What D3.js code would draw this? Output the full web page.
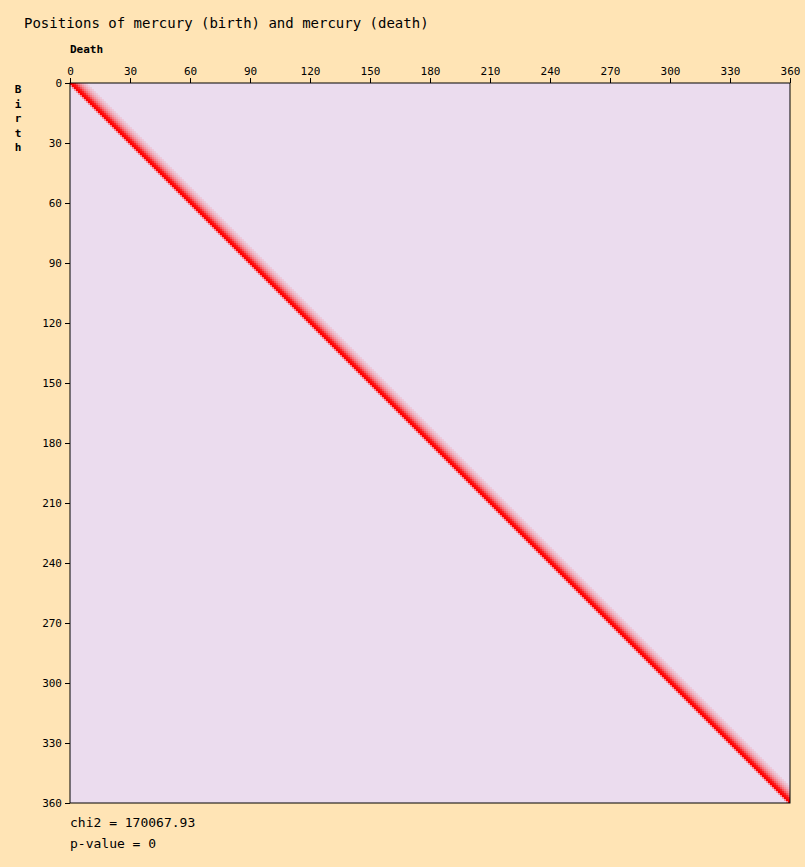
<!DOCTYPE html>
<html><head><meta charset="utf-8">
<script src="https://cdn.jsdelivr.net/npm/d3@7"></script>
<style>body{margin:0;background:#ffe4b5;}text{font-family:"DejaVu Sans Mono",monospace;}</style>
</head><body><svg id="c" width="805" height="867"></svg>
<script>
// axis ticks (degrees)
const ticks = [0, 30, 60, 90, 120, 150, 180, 210, 240, 270, 300, 330, 360];
// diagonal band: offset of death from birth (deg) and red intensity
const bandOffsets = [-1, 0, 1, 2, 3, 4, 5, 6, 7, 8];
const bandStrength = [0.35, 1.0, 0.95, 0.85, 0.62, 0.45, 0.32, 0.22, 0.14, 0.08];
const chi2 = "170067.93";
const pValue = "0";

const svg = d3.select('#c');
const x = d3.scaleLinear().domain([0, 360]).range([70, 790]);
const y = d3.scaleLinear().domain([0, 360]).range([83, 803]);
const bg = '#ebdcee';
const col = d3.interpolateRgb(bg, '#ff0000');

svg.append('rect').attr('x', x(0)).attr('y', y(0))
  .attr('width', x(360) - x(0)).attr('height', y(360) - y(0)).attr('fill', bg);

let cells = [];
for (let b = 0; b < 360; b++) {
  bandOffsets.forEach((o, i) => {
    const d = b + o;
    if (d >= 0 && d < 360) cells.push({ b: b, d: d, v: bandStrength[i] });
  });
}
svg.append('g').selectAll('rect').data(cells).enter().append('rect')
  .attr('x', (c) => x(c.d)).attr('y', (c) => y(c.b))
  .attr('width', x(1) - x(0)).attr('height', y(1) - y(0))
  .attr('fill', (c) => col(c.v));

svg.append('rect').attr('x', x(0)).attr('y', y(0))
  .attr('width', x(360) - x(0)).attr('height', y(360) - y(0))
  .attr('fill', 'none').attr('stroke', '#000');

svg.append('g').attr('transform', `translate(0,${y(0)})`)
  .call(d3.axisTop(x).tickValues(ticks).tickSize(5).tickSizeOuter(0))
  .call((g) => g.select('.domain').remove())
  .selectAll('text').attr('font-size', 11).attr('font-family', 'DejaVu Sans Mono');
svg.append('g').attr('transform', `translate(${x(0)},0)`)
  .call(d3.axisLeft(y).tickValues(ticks).tickSize(5).tickSizeOuter(0))
  .call((g) => g.select('.domain').remove())
  .selectAll('text').attr('font-size', 11).attr('font-family', 'DejaVu Sans Mono');

svg.append('text').attr('x', 24).attr('y', 28).attr('font-size', 14)
  .text('Positions of mercury (birth) and mercury (death)');
svg.append('text').attr('x', 70).attr('y', 53).attr('font-size', 11).attr('font-weight', 'bold')
  .text('Death');
'Birth'.split('').forEach((ch, i) => {
  svg.append('text').attr('x', 18).attr('y', 93 + i * 14.5).attr('font-size', 11)
    .attr('font-weight', 'bold').attr('text-anchor', 'middle').text(ch);
});
svg.append('text').attr('x', 70).attr('y', 827).attr('font-size', 13).text('chi2 = ' + chi2);
svg.append('text').attr('x', 70).attr('y', 848).attr('font-size', 13).text('p-value = ' + pValue);
</script></body></html>
